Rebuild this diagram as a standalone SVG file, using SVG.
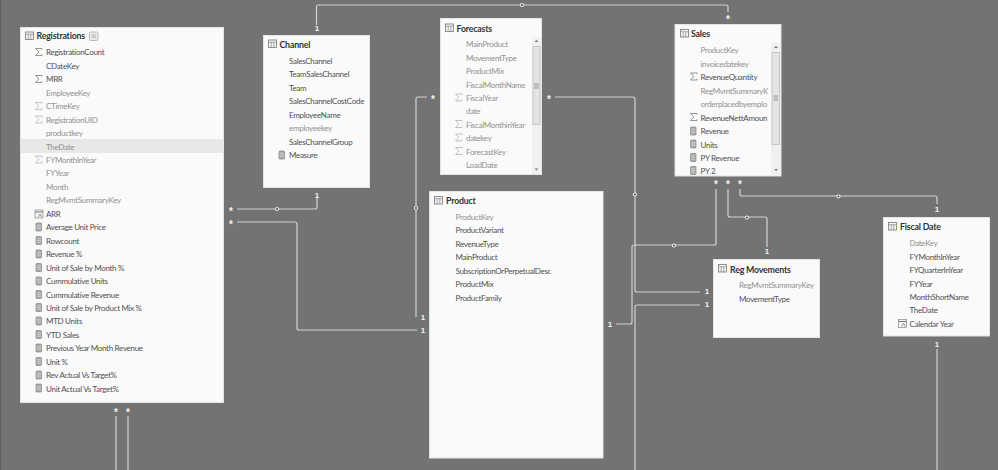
<svg xmlns="http://www.w3.org/2000/svg" width="998" height="470" viewBox="0 0 998 470">
<style>
text{font-family:"Lato","Liberation Sans",sans-serif}
.card{fill:#fafafa;stroke:#e4e4e4;stroke-width:1}
.t{font-size:8.800px;font-weight:700;fill:#333;letter-spacing:-.2px}
.f{font-size:8px;fill:#505050;letter-spacing:-.3px}
.h{font-size:8px;fill:#909090;letter-spacing:-.3px}
.c{fill:none;stroke:#d2d2d2;stroke-width:1.2}
.m{font-family:"Liberation Sans",sans-serif;font-size:8px;font-weight:700;fill:#f2f2f2;text-anchor:middle}
.s{font-family:"Liberation Sans",sans-serif;font-size:10px;font-weight:700;fill:#f2f2f2;text-anchor:middle;transform:translateY(1.5px)}
.d{fill:#333;stroke:#eee;stroke-width:1.2}
.sb{fill:#f0f0f0}
.th{fill:#e4e4e4;stroke:#bdbdbd;stroke-width:.8}
</style>
<defs>
<g id="tb"><rect x="0" y="0" width="8" height="7.500" fill="#f4f4f4" stroke="#777" stroke-width=".8"/><path d="M0 2.200H8M2.700 2.200V7.500M5.300 2.200V7.500" stroke="#8a8a8a" stroke-width=".7" fill="none"/></g>
<path id="sg" d="M0 0H6.500V1.200M0 0L3.400 3.500L0 7H6.500V5.800" fill="none" stroke="#7a7a7a" stroke-width=".8"/>
<path id="sgh" d="M0 0H6.500V1.200M0 0L3.400 3.500L0 7H6.500V5.800" fill="none" stroke="#b5b5b5" stroke-width=".8"/>
<g id="ms"><rect x="0" y="0" width="5.500" height="8" rx=".8" fill="#a8a8a8" stroke="#777" stroke-width=".6"/><path d="M.6 2.200H5M.6 4H5M.6 5.800H5" stroke="#eee" stroke-width=".5"/></g>
<g id="cc"><rect x="0" y="0" width="8" height="8" fill="#f4f4f4" stroke="#888" stroke-width=".7"/><path d="M0 2H8" stroke="#777" stroke-width="1"/><path d="M3 7L5 4L6.500 7" fill="none" stroke="#666" stroke-width=".7"/></g>
<circle id="dt" r="1.500" class="d"/>
</defs>
<rect width="998" height="470" fill="#737373"/>
<rect width="1" height="470" fill="#5f5f5f"/>
<g id="connectors">
<path class="c" d="M316.500 25V7Q316.500 5 318.500 5H726Q728 5 728 7V12"/>
<path class="c" d="M237 209H315Q317 209 317 207V197"/>
<path class="c" d="M237 222H295Q297 222 297 224V328Q297 330 299 330H417"/>
<path class="c" d="M427 97H418Q416 97 416 99V317"/>
<path class="c" d="M555 97H633Q635 97 635 99V290Q635 292 637 292H700"/>
<path class="c" d="M635 470V307Q635 305 637 305H700"/>
<path class="c" d="M716 189V243Q716 245 714 245H634Q632 245 632 247V322Q632 324 630 324H616"/>
<path class="c" d="M728 189V215Q728 217 730 217H765Q767 217 767 219V247"/>
<path class="c" d="M740 189V194Q740 196 742 196H935Q937 196 937 198V204"/>
<path class="c" d="M937 349V470"/>
<path class="c" d="M116 416V470"/>
<path class="c" d="M128 416V470"/>
<use href="#dt" x="522" y="5"/><use href="#dt" x="277" y="209"/><use href="#dt" x="416" y="208"/><use href="#dt" x="635" y="194.500"/><use href="#dt" x="674" y="245.500"/><use href="#dt" x="747" y="217.500"/><use href="#dt" x="838.500" y="196.500"/>
<text class="m" x="317" y="31">1</text><text class="s" x="728" y="21">*</text>
<text class="s" x="231" y="213">*</text><text class="m" x="317" y="198">1</text>
<text class="s" x="231" y="226">*</text><text class="m" x="423" y="320">1</text>
<text class="s" x="433" y="101">*</text><text class="m" x="423" y="333">1</text>
<text class="s" x="549" y="101">*</text><text class="m" x="707" y="294">1</text>
<text class="m" x="707" y="307">1</text>
<text class="s" x="716" y="186">*</text><text class="m" x="610" y="327">1</text>
<text class="s" x="728" y="186">*</text><text class="m" x="767" y="254">1</text>
<text class="s" x="740" y="186">*</text><text class="m" x="937" y="212">1</text>
<text class="m" x="937" y="347">1</text>
<text class="s" x="116" y="414">*</text><text class="s" x="128" y="414">*</text>
</g>
<g id="registrations">
<rect class="card" x="20.500" y="27.500" width="203" height="375"/>
<rect x="21" y="139" width="203" height="14" fill="#e8e8e8"/>
<use href="#tb" x="25.500" y="32"/>
<text class="t" x="36.500" y="39">Registrations</text>
<rect x="89.500" y="32" width="8.500" height="8.500" rx="1.500" fill="#ececec" stroke="#aaa" stroke-width=".8"/><rect x="91.500" y="34" width="4.500" height="4.500" fill="#ccc"/>
<use href="#sg" x="35.500" y="48.500"/><text class="f" x="46" y="55">RegistrationCount</text>
<text class="f" x="46" y="69">CDateKey</text>
<use href="#sg" x="35.500" y="75.500"/><text class="f" x="46" y="82">MRR</text>
<text class="h" x="46" y="96">EmployeeKey</text>
<use href="#sgh" x="35.500" y="102.500"/><text class="h" x="46" y="109">CTimeKey</text>
<use href="#sgh" x="35.500" y="116"/><text class="h" x="46" y="122.500">RegistrationUID</text>
<text class="h" x="46" y="136">productkey</text>
<text class="h" x="46" y="149.500">TheDate</text>
<use href="#sgh" x="35.500" y="156"/><text class="h" x="46" y="163">FYMonthInYear</text>
<text class="h" x="46" y="176">FYYear</text>
<text class="h" x="46" y="190">Month</text>
<text class="h" x="46" y="203">RegMvmtSummaryKey</text>
<use href="#cc" x="35" y="210"/><text class="f" x="46" y="216.500">ARR</text>
<use href="#ms" x="36" y="223"/><text class="f" x="46" y="230">Average Unit Price</text>
<use href="#ms" x="36" y="236.500"/><text class="f" x="46" y="243.500">Rowcount</text>
<use href="#ms" x="36" y="250"/><text class="f" x="46" y="257">Revenue %</text>
<use href="#ms" x="36" y="263.500"/><text class="f" x="46" y="270.500">Unit of Sale by Month %</text>
<use href="#ms" x="36" y="277"/><text class="f" x="46" y="284">Cummulative Units</text>
<use href="#ms" x="36" y="290.500"/><text class="f" x="46" y="297.500">Cummulative Revenue</text>
<use href="#ms" x="36" y="303.500"/><text class="f" x="46" y="311">Unit of Sale by Product Mix %</text>
<use href="#ms" x="36" y="317"/><text class="f" x="46" y="324">MTD Units</text>
<use href="#ms" x="36" y="330.500"/><text class="f" x="46" y="337.500">YTD Sales</text>
<use href="#ms" x="36" y="344"/><text class="f" x="46" y="351">Previous Year Month Revenue</text>
<use href="#ms" x="36" y="357.500"/><text class="f" x="46" y="364.500">Unit %</text>
<use href="#ms" x="36" y="371"/><text class="f" x="46" y="378">Rev Actual Vs Target%</text>
<use href="#ms" x="36" y="384"/><text class="f" x="46" y="391.500">Unit Actual Vs Target%</text>
</g>
<g id="channel">
<rect class="card" x="263.500" y="35.500" width="106" height="152"/>
<use href="#tb" x="268.500" y="40"/>
<text class="t" x="279.500" y="47.500">Channel</text>
<text class="f" x="289" y="64">SalesChannel</text>
<text class="f" x="289" y="77">TeamSalesChannel</text>
<text class="f" x="289" y="90.500">Team</text>
<text class="f" x="289" y="104">SalesChannelCostCode</text>
<text class="f" x="289" y="117.500">EmployeeName</text>
<text class="h" x="289" y="131">employeekey</text>
<text class="f" x="289" y="144.500">SalesChannelGroup</text>
<use href="#ms" x="279" y="151"/><text class="f" x="289" y="158">Measure</text>
</g>
<g id="forecasts">
<rect class="card" x="440.500" y="18.500" width="101" height="156"/>
<use href="#tb" x="445.500" y="24"/>
<text class="t" x="456.500" y="31.500">Forecasts</text>
<text class="h" x="466" y="47">MainProduct</text>
<text class="h" x="466" y="60.500">MovementType</text>
<text class="h" x="466" y="74">ProductMix</text>
<text class="h" x="466" y="87.500">FiscalMonthName</text>
<use href="#sgh" x="455.500" y="94"/><text class="h" x="466" y="101">FiscalYear</text>
<text class="h" x="466" y="114">date</text>
<use href="#sgh" x="455.500" y="120.500"/><text class="h" x="466" y="127.500">FiscalMonthinYear</text>
<use href="#sgh" x="455.500" y="134"/><text class="h" x="466" y="141">datekey</text>
<use href="#sgh" x="455.500" y="147.500"/><text class="h" x="466" y="154.500">ForecastKey</text>
<text class="h" x="466" y="168">LoadDate</text>
<rect class="sb" x="532" y="37" width="9" height="137"/>
<rect class="th" x="533" y="46.500" width="7" height="78"/>
<path d="M534 84H539M534 86H539M534 88H539" stroke="#888" stroke-width=".8"/>
<path d="M534.500 42L536.500 40L538.500 42ZM534.500 168.500L536.500 170.500L538.500 168.500Z" fill="#777"/>
</g>
<g id="product">
<rect class="card" x="429.500" y="191.500" width="173.500" height="266.500"/>
<use href="#tb" x="434.500" y="196.500"/>
<text class="t" x="446" y="204">Product</text>
<text class="h" x="455.500" y="219.500">ProductKey</text>
<text class="f" x="455.500" y="233">ProductVariant</text>
<text class="f" x="455.500" y="246.500">RevenueType</text>
<text class="f" x="455.500" y="260">MainProduct</text>
<text class="f" x="455.500" y="273.500">SubscriptionOrPerpetualDesc</text>
<text class="f" x="455.500" y="287">ProductMix</text>
<text class="f" x="455.500" y="300.500">ProductFamily</text>
</g>
<g id="sales">
<rect class="card" x="675" y="24.500" width="106" height="151.500"/>
<use href="#tb" x="680.500" y="29.500"/>
<text class="t" x="691" y="37">Sales</text>
<text class="h" x="700.500" y="53">ProductKey</text>
<text class="h" x="700.500" y="66.500">invoicedatekey</text>
<use href="#sg" x="690.500" y="73"/><text class="f" x="700.500" y="80">RevenueQuantity</text>
<text class="h" x="700.500" y="93.500">RegMvmtSummaryK</text>
<text class="h" x="700.500" y="107">orderplacedbyemplo</text>
<use href="#sg" x="690.500" y="113.500"/><text class="f" x="700.500" y="120.500">RevenueNettAmoun</text>
<use href="#ms" x="690.500" y="127"/><text class="f" x="700.500" y="134">Revenue</text>
<use href="#ms" x="690.500" y="140"/><text class="f" x="700.500" y="147.500">Units</text>
<use href="#ms" x="690.500" y="153.500"/><text class="f" x="700.500" y="160.500">PY Revenue</text>
<use href="#ms" x="690.500" y="166.500"/><text class="f" x="700.500" y="174">PY 2</text>
<rect class="sb" x="771" y="43" width="9.500" height="132.500"/>
<rect class="th" x="772" y="52.500" width="7.500" height="92"/>
<path d="M773.500 96H778M773.500 98H778M773.500 100H778" stroke="#888" stroke-width=".8"/>
<path d="M774 48L776 46L778 48ZM774 169L776 171L778 169Z" fill="#777"/>
</g>
<g id="reg-movements">
<rect class="card" x="713.500" y="259.500" width="106" height="78"/>
<use href="#tb" x="718.500" y="264.500"/>
<text class="t" x="730" y="272.500">Reg Movements</text>
<text class="h" x="739" y="288">RegMvmtSummaryKey</text>
<text class="f" x="739" y="301.500">MovementType</text>
</g>
<g id="fiscal-date">
<rect class="card" x="883.500" y="217.500" width="106" height="118.500"/>
<use href="#tb" x="888.500" y="222.500"/>
<text class="t" x="900" y="230">Fiscal Date</text>
<text class="h" x="909.500" y="246">DateKey</text>
<text class="f" x="909.500" y="259.500">FYMonthInYear</text>
<text class="f" x="909.500" y="273">FYQuarterInYear</text>
<text class="f" x="909.500" y="286.500">FYYear</text>
<text class="f" x="909.500" y="300">MonthShortName</text>
<text class="f" x="909.500" y="313">TheDate</text>
<use href="#cc" x="898.500" y="319.500"/><text class="f" x="909.500" y="326.500">Calendar Year</text>
</g>
</svg>
